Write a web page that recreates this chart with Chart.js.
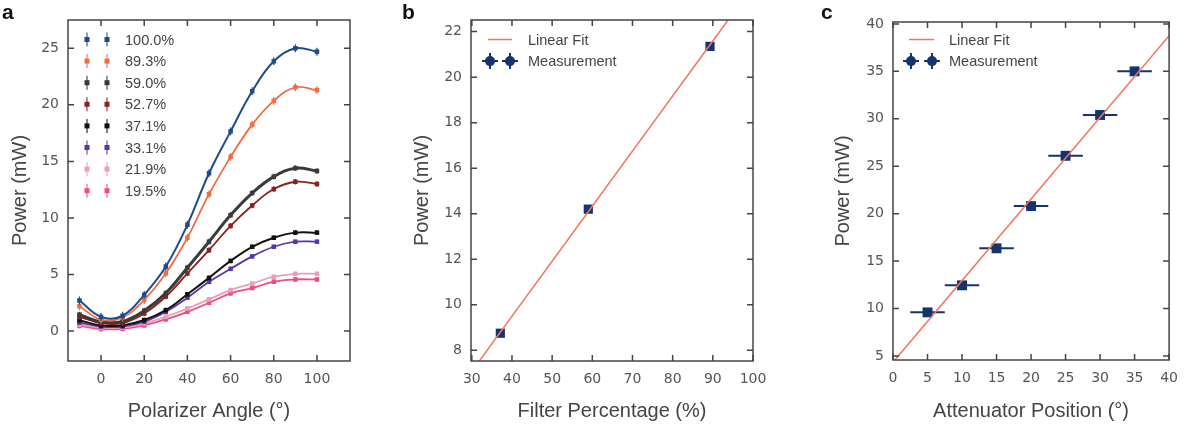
<!DOCTYPE html>
<html>
<head>
<meta charset="utf-8">
<script src="https://cdn.jsdelivr.net/npm/chart.js@4.4.0/dist/chart.umd.min.js"></script>
<style>
  body { margin: 0; background: #fff; width: 1188px; height: 431px; position: relative; overflow: hidden; }
  canvas.panel { position: absolute; top: 0; }
  .letter { position: absolute; z-index: 2; font: bold 21px "Liberation Sans", Arial, sans-serif; color: #111; }
</style>
</head>
<body>
<div class="letter" style="left:2px;top:0px">a</div>
<div class="letter" style="left:402px;top:0px">b</div>
<div class="letter" style="left:821px;top:0px">c</div>
<canvas id="chartA" class="panel" width="370" height="431" style="left:0px"></canvas>
<canvas id="chartB" class="panel" width="380" height="431" style="left:400px"></canvas>
<canvas id="chartC" class="panel" width="368" height="431" style="left:820px"></canvas>
<script>
// ---- panel a : power vs polarizer angle for each filter ----
const angles = [-10, 0, 10, 20, 30, 40, 50, 60, 70, 80, 90, 100];
const filterLabels = ['100.0%', '89.3%', '59.0%', '52.7%', '37.1%', '33.1%', '21.9%', '19.5%'];
const p1000 = [2.7, 1.25, 1.35, 3.2, 5.7, 9.4, 13.95, 17.65, 21.2, 23.85, 25.0, 24.7];
const p893 = [2.2, 1.0, 1.2, 2.75, 5.1, 8.25, 12.1, 15.4, 18.25, 20.35, 21.55, 21.3];
const p590 = [1.45, 0.8, 0.85, 1.8, 3.35, 5.6, 7.9, 10.25, 12.2, 13.65, 14.4, 14.15];
const p527 = [1.25, 0.7, 0.7, 1.55, 3.05, 5.1, 7.15, 9.3, 11.1, 12.55, 13.2, 13.0];
const p371 = [0.95, 0.5, 0.5, 0.97, 1.85, 3.25, 4.7, 6.2, 7.45, 8.25, 8.7, 8.7];
const p331 = [0.75, 0.4, 0.4, 0.82, 1.7, 2.95, 4.35, 5.5, 6.6, 7.45, 7.9, 7.9];
const p219 = [0.56, 0.3, 0.3, 0.68, 1.27, 2.0, 2.8, 3.62, 4.2, 4.8, 5.06, 5.06];
const p195 = [0.45, 0.18, 0.18, 0.5, 1.03, 1.7, 2.5, 3.33, 3.8, 4.36, 4.56, 4.56];
const errA = [0.35, 0.35, 0.25, 0.25, 0.2, 0.2, 0.2, 0.2];
const aXTicks = [0, 20, 40, 60, 80, 100];
const aYTicks = [0, 5, 10, 15, 20, 25];

// ---- panel b : power vs filter percentage ----
const filterPct = [37.1, 59.0, 89.3];
const powerB = [8.75, 14.2, 21.35];
const xErrB = [0.8, 0.8, 0.8];
const yErrB = [0.12, 0.12, 0.12];
const fitBx = [31.75, 93.75];
const fitBy = [7.5, 22.5];
const bXTicks = [30, 40, 50, 60, 70, 80, 90, 100];
const bYTicks = [8, 10, 12, 14, 16, 18, 20, 22];

// ---- panel c : power vs attenuator position ----
const attenPos = [5, 10, 15, 20, 25, 30, 35];
const powerC = [9.6, 12.45, 16.35, 20.8, 26.1, 30.4, 35.0];
const xErrC = [2.5, 2.5, 2.5, 2.5, 2.5, 2.5, 2.5];
const fitCx = [0.3, 40];
const fitCy = [4.6, 38.75];
const cXTicks = [0, 5, 10, 15, 20, 25, 30, 35, 40];
const cYTicks = [5, 10, 15, 20, 25, 30, 35, 40];

const colorsA = ['#1f4a8a', '#f26b43', '#3a3a3a', '#8b2020', '#111111', '#5a35a8', '#eaa0b2', '#f24a84'];
const widthsA = [2, 1.8, 3, 1.8, 2, 1.8, 1.8, 1.8];
const navy = '#15346f';
const fitColor = '#f2765a';

const tickFont = { family: '"DejaVu Sans", sans-serif', size: 14 };
const titleFont = { family: '"Liberation Sans", Arial, sans-serif', size: 20 };
const legendFont = '14.5px "Liberation Sans", Arial, sans-serif';

const pts = (xs, ys) => xs.map((x, i) => ({ x: x, y: ys[i] }));

// error bars drawn under each dataset's markers
const errorBars = {
  id: 'errorBars',
  beforeDatasetDraw(chart, args) {
    const ds = chart.data.datasets[args.index];
    if (!ds.errX && !ds.errY) return;
    const { ctx, scales: { x, y } } = chart;
    ctx.save();
    ctx.strokeStyle = ds.errColor || ds.borderColor;
    ctx.lineWidth = ds.errWidth || 1.5;
    ctx.beginPath();
    ds.data.forEach((p, i) => {
      const px = x.getPixelForValue(p.x), py = y.getPixelForValue(p.y);
      if (ds.errX) {
        ctx.moveTo(x.getPixelForValue(p.x - ds.errX[i]), py);
        ctx.lineTo(x.getPixelForValue(p.x + ds.errX[i]), py);
      }
      if (ds.errY) {
        ctx.moveTo(px, y.getPixelForValue(p.y - ds.errY[i]));
        ctx.lineTo(px, y.getPixelForValue(p.y + ds.errY[i]));
      }
    });
    ctx.stroke();
    ctx.restore();
  }
};

// box round the plot with inward ticks on all four sides
const frame = {
  id: 'frame',
  afterDatasetsDraw(chart) {
    const { ctx, chartArea: ca, scales: { x, y } } = chart;
    ctx.save();
    ctx.strokeStyle = '#444';
    ctx.lineWidth = 1.5;
    ctx.strokeRect(ca.left, ca.top, ca.right - ca.left, ca.bottom - ca.top);
    ctx.beginPath();
    x.ticks.forEach(t => {
      const px = x.getPixelForValue(t.value);
      ctx.moveTo(px, ca.bottom); ctx.lineTo(px, ca.bottom - 6);
      ctx.moveTo(px, ca.top); ctx.lineTo(px, ca.top + 6);
    });
    y.ticks.forEach(t => {
      const py = y.getPixelForValue(t.value);
      ctx.moveTo(ca.left, py); ctx.lineTo(ca.left + 6, py);
      ctx.moveTo(ca.right, py); ctx.lineTo(ca.right - 6, py);
    });
    ctx.stroke();
    ctx.restore();
  }
};

function drawMark(ctx, x, y, kind, color) {
  ctx.strokeStyle = color;
  ctx.fillStyle = color;
  if (kind === 'errY') {
    ctx.globalAlpha = 0.7;
    ctx.lineWidth = 1.5;
    ctx.beginPath(); ctx.moveTo(x, y - 7); ctx.lineTo(x, y + 7); ctx.stroke();
    ctx.globalAlpha = 1;
    ctx.fillRect(x - 2.5, y - 2.5, 5, 5);
  } else {
    ctx.lineWidth = 2;
    ctx.beginPath();
    ctx.moveTo(x - 8, y); ctx.lineTo(x + 8, y);
    ctx.moveTo(x, y - 8); ctx.lineTo(x, y + 8);
    ctx.stroke();
    ctx.beginPath(); ctx.arc(x, y, 5, 0, Math.PI * 2); ctx.fill();
  }
}

// legend inside the plot, two markers per entry
const insetLegend = {
  id: 'insetLegend',
  afterDraw(chart, args, opts) {
    const { ctx, chartArea: ca } = chart;
    ctx.save();
    ctx.font = legendFont;
    ctx.textBaseline = 'middle';
    chart.data.datasets.forEach((ds, i) => {
      const y = ca.top + opts.top + i * opts.rowH;
      const x1 = ca.left + opts.mx1, x2 = ca.left + opts.mx2;
      if (ds.legendKind === 'line') {
        ctx.strokeStyle = ds.borderColor;
        ctx.lineWidth = 1.5;
        ctx.beginPath(); ctx.moveTo(x1 - 2, y); ctx.lineTo(x2 + 2, y); ctx.stroke();
      } else {
        drawMark(ctx, x1, y, ds.legendKind, ds.borderColor);
        drawMark(ctx, x2, y, ds.legendKind, ds.borderColor);
      }
      ctx.fillStyle = '#444';
      ctx.fillText(ds.label, ca.left + opts.tx, y + 1);
    });
    ctx.restore();
  }
};

function scalesFor(o) {
  return {
    x: {
      type: 'linear', min: o.xMin, max: o.xMax,
      afterFit: s => { s.height = o.xH; },
      afterBuildTicks: s => { s.ticks = o.xTicks.map(v => ({ value: v })); },
      grid: { display: false, drawTicks: false },
      border: { display: false },
      ticks: { font: tickFont, color: '#555', padding: 10, maxRotation: 0, autoSkip: false },
      title: { display: true, text: o.xTitle, font: titleFont, color: '#444', padding: { top: 0, bottom: 8 } }
    },
    y: {
      type: 'linear', min: o.yMin, max: o.yMax,
      afterFit: s => { s.width = o.yW; },
      afterBuildTicks: s => { s.ticks = o.yTicks.map(v => ({ value: v })); },
      grid: { display: false, drawTicks: false },
      border: { display: false },
      ticks: { font: tickFont, color: '#555', padding: 9, autoSkip: false },
      title: { display: true, text: 'Power (mW)', font: titleFont, color: '#444', padding: { top: o.yTitlePad, bottom: 0 } }
    }
  };
}

function baseOptions(o, legendOpts) {
  return {
    responsive: false,
    animation: false,
    devicePixelRatio: 1,
    layout: { padding: { top: o.top, right: o.right, left: 0, bottom: 0 } },
    scales: scalesFor(o),
    plugins: { legend: { display: false }, tooltip: { enabled: false }, insetLegend: legendOpts }
  };
}

// panel a
const seriesA = [p1000, p893, p590, p527, p371, p331, p219, p195];
new Chart(document.getElementById('chartA'), {
  type: 'scatter',
  data: {
    datasets: seriesA.map((vals, k) => ({
      label: filterLabels[k],
      legendKind: 'errY',
      data: pts(angles, vals),
      showLine: true,
      tension: 0.4,
      borderColor: colorsA[k],
      backgroundColor: colorsA[k],
      borderWidth: widthsA[k],
      pointStyle: 'rect',
      pointRadius: 3.2,
      pointBorderWidth: 0,
      errY: angles.map(() => errA[k]),
      errWidth: 1.2
    }))
  },
  options: baseOptions({
    xMin: -15.3, xMax: 115.3, yMin: -2.65, yMax: 27.5, xTicks: aXTicks, yTicks: aYTicks,
    xH: 70, yW: 68, top: 20, right: 20, yTitlePad: 8, xTitle: 'Polarizer Angle (°)'
  }, { top: 19.5, rowH: 21.6, mx1: 19, mx2: 39, tx: 57 }),
  plugins: [errorBars, frame, insetLegend]
});

// panel b
new Chart(document.getElementById('chartB'), {
  type: 'scatter',
  data: {
    datasets: [
      {
        label: 'Linear Fit', legendKind: 'line',
        data: pts(fitBx, fitBy), showLine: true, borderColor: fitColor, borderWidth: 1.5, pointRadius: 0
      },
      {
        label: 'Measurement', legendKind: 'cross',
        data: pts(filterPct, powerB), borderColor: navy, backgroundColor: navy,
        pointStyle: 'rect', pointRadius: 6.5, pointBorderWidth: 0,
        errX: xErrB, errY: yErrB, errWidth: 1.5
      }
    ]
  },
  options: baseOptions({
    xMin: 29.8, xMax: 100, yMin: 7.53, yMax: 22.51, xTicks: bXTicks, yTicks: bYTicks,
    xH: 70, yW: 71, top: 20, right: 27, yTitlePad: 10, xTitle: 'Filter Percentage (%)'
  }, { top: 19.5, rowH: 21.6, mx1: 19, mx2: 39, tx: 57 }),
  plugins: [errorBars, frame, insetLegend]
});

// panel c
new Chart(document.getElementById('chartC'), {
  type: 'scatter',
  data: {
    datasets: [
      {
        label: 'Linear Fit', legendKind: 'line',
        data: pts(fitCx, fitCy), showLine: true, borderColor: fitColor, borderWidth: 1.5, pointRadius: 0
      },
      {
        label: 'Measurement', legendKind: 'cross',
        data: pts(attenPos, powerC), borderColor: navy, backgroundColor: navy,
        pointStyle: 'rect', pointRadius: 7, pointBorderWidth: 0,
        errX: xErrC, errWidth: 2
      }
    ]
  },
  options: baseOptions({
    xMin: 0, xMax: 40, yMin: 4.58, yMax: 40.2, xTicks: cXTicks, yTicks: cYTicks,
    xH: 71, yW: 73, top: 22, right: 13, yTitlePad: 11, xTitle: 'Attenuator Position (°)'
  }, { top: 17.5, rowH: 21.6, mx1: 18, mx2: 39, tx: 56 }),
  plugins: [errorBars, frame, insetLegend]
});
</script>
</body>
</html>
